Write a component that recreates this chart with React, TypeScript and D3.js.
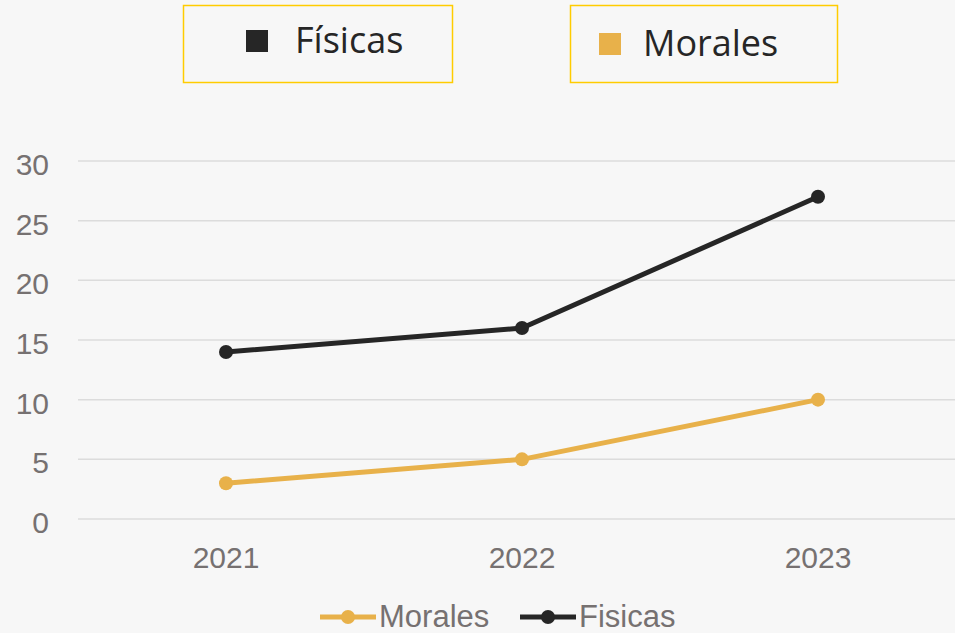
import * as d3 from "d3";

const years = ["2021", "2022", "2023"];
const fisicas = [14, 16, 27];
const morales = [3, 5, 10];
const yTicks = [0, 5, 10, 15, 20, 25, 30];

const W = 955;
const H = 633;
const BLACK = "#262626";
const GOLD = "#e8b14a";
const GREY = "#767171";

export default function App() {
  const x = d3.scaleBand().domain(years).range([78, 966]);
  const cx = (d: string) => (x(d) || 0) + x.bandwidth() / 2;
  const y = d3.scaleLinear().domain([0, 30]).range([519, 161]);

  const line = d3
    .line<number>()
    .x((_, i) => cx(years[i]))
    .y((d) => y(d));

  const series = [
    { name: "Morales", values: morales, color: GOLD },
    { name: "Fisicas", values: fisicas, color: BLACK },
  ];

  return (
    <svg
      width={W}
      height={H}
      style={{ position: "absolute", left: 0, top: 0, background: "#f7f7f7" }}
      fontFamily="'Liberation Sans', Arial, sans-serif"
    >
      <rect width={W} height={H} fill="#f7f7f7" />
      {/* top legend boxes */}
      <rect x={183.5} y={5.5} width={269} height={77} fill="none" stroke="#ffcc00" strokeWidth={1.5} />
      <rect x={246} y={30} width={22} height={22} fill={BLACK} />
      <text x={295} y={53} fontSize={36} fill={BLACK} fontFamily="'Open Sans', sans-serif">
        Físicas
      </text>
      <rect x={570.5} y={5.5} width={267} height={77} fill="none" stroke="#ffcc00" strokeWidth={1.5} />
      <rect x={599} y={33} width={22} height={22} fill={GOLD} />
      <text x={643} y={56} fontSize={36} fill={BLACK} fontFamily="'Open Sans', sans-serif">
        Morales
      </text>

      {/* grid + y labels */}
      {yTicks.map((t) => (
        <g key={t}>
          <line x1={78} x2={W} y1={y(t)} y2={y(t)} stroke="#dcdcdc" strokeWidth={1.5} />
          <text x={49} y={y(t) + 14} textAnchor="end" fontSize={30} fill={GREY}>
            {t}
          </text>
        </g>
      ))}

      {/* x labels */}
      {years.map((yr) => (
        <text key={yr} x={cx(yr)} y={568} textAnchor="middle" fontSize={30} fill={GREY}>
          {yr}
        </text>
      ))}

      {/* series */}
      {series.map((s) => (
        <g key={s.name}>
          <path d={line(s.values) || ""} fill="none" stroke={s.color} strokeWidth={5} strokeLinejoin="round" />
          {s.values.map((v, i) => (
            <circle key={i} cx={cx(years[i])} cy={y(v)} r={7} fill={s.color} />
          ))}
        </g>
      ))}

      {/* bottom legend */}
      {series.map((s, i) => {
        const lx = i === 0 ? 320 : 520;
        return (
          <g key={s.name}>
            <line x1={lx} x2={lx + 56} y1={617} y2={617} stroke={s.color} strokeWidth={5} />
            <circle cx={lx + 28} cy={617} r={7} fill={s.color} />
            <text x={lx + 59} y={627} fontSize={31} fill={GREY}>
              {s.name}
            </text>
          </g>
        );
      })}
    </svg>
  );
}
